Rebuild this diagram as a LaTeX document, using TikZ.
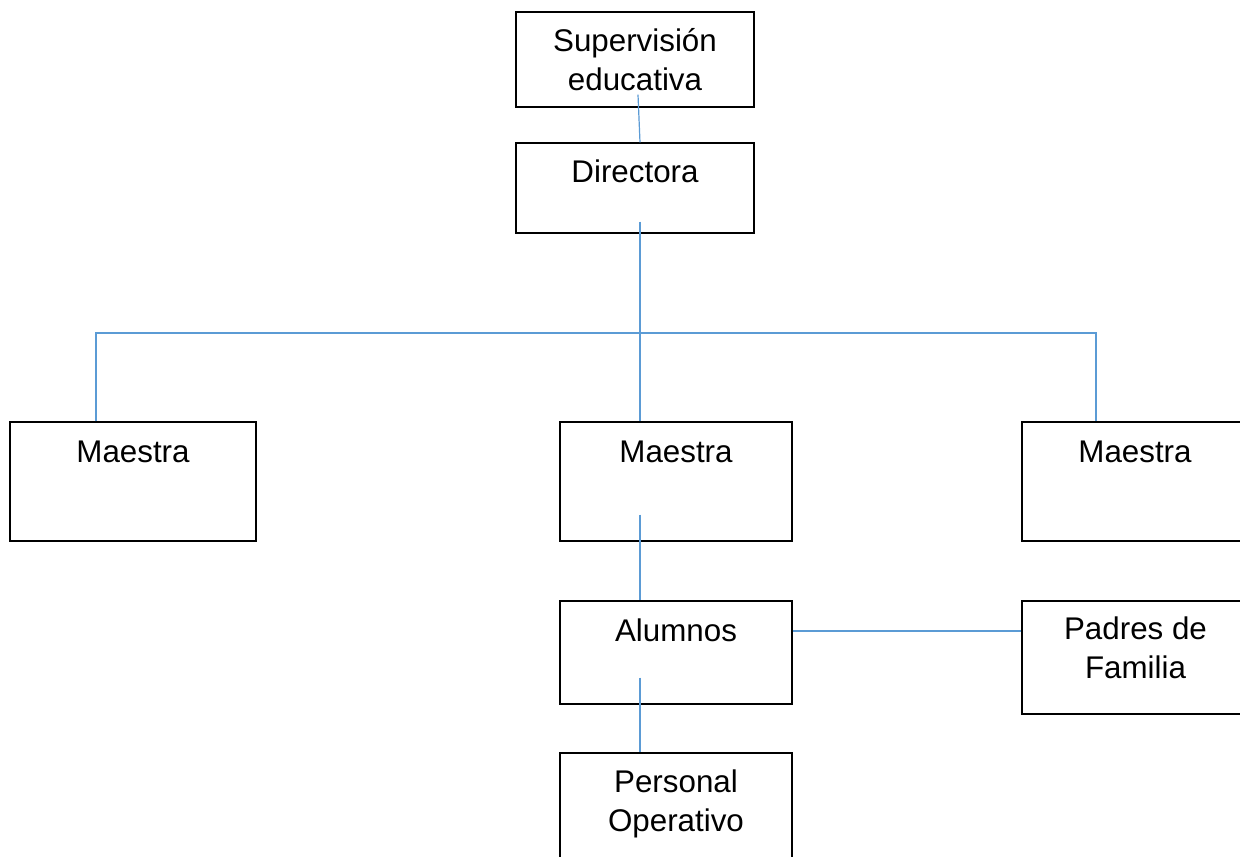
\documentclass[tikz,border=0pt]{standalone}
\usepackage{fontspec}
\setmainfont{Liberation Sans}
\usetikzlibrary{calc}
\definecolor{conn}{RGB}{91,155,213}
\begin{document}
\begin{tikzpicture}[x=0.75pt,y=-0.75pt,
  box/.style={draw=black,line width=1pt,rectangle,inner sep=0pt,fill=white},
  lbl/.style={anchor=base,align=center,inner sep=0pt,font=\fontsize{23.5}{29.25}\selectfont},
  link/.style={draw=conn,line width=0.9pt}]
\useasboundingbox (0,0) rectangle (1240,857);
\clip (0,0) rectangle (1240,857);
\fill[white] (0,0) rectangle (1240,857);
% boxes
\node[box,minimum width=178.5pt,minimum height=71.25pt] (sup) at (635,59.5) {};
\node[box,minimum width=178.5pt,minimum height=67.5pt] (dir) at (635,188) {};
\node[box,minimum width=184.5pt,minimum height=89.25pt] (m1) at (133,481.5) {};
\node[box,minimum width=174pt,minimum height=89.25pt] (m2) at (676,481.5) {};
\node[box,minimum width=169.5pt,minimum height=89.25pt] (m3) at (1135,481.5) {};
\node[box,minimum width=174pt,minimum height=77.25pt] (alu) at (676,652.5) {};
\node[box,minimum width=170.25pt,minimum height=84.75pt] (pad) at (1135.5,657.5) {};
\node[box,minimum width=174pt,minimum height=80.25pt] (per) at (676,806.5) {};
% labels (base anchor = baseline of last line)
\node[lbl] (tsup) at ($(sup.north)+(0,79)$) {Supervisión\\educativa};
\node[lbl] (tdir) at ($(dir.north)+(0,40)$) {Directora};
\node[lbl] (tm1) at ($(m1.north)+(0,41)$) {Maestra};
\node[lbl] (tm2) at ($(m2.north)+(0,41)$) {Maestra};
\node[lbl] (tm3) at ($(m3.north)+(0,41)$) {Maestra};
\node[lbl] (talu) at ($(alu.north)+(0,41)$) {Alumnos};
\node[lbl] (tpad) at ($(pad.north)+(0,78)$) {Padres de\\Familia};
\node[lbl] (tper) at ($(per.north)+(0,79)$) {Personal\\Operativo};
% connectors
\coordinate (s1) at ($(sup.south)+(3,-13)$);
\draw[link] (s1) -- ($(dir.north)+(5,0)$);
\coordinate (d1) at ($(dir.south)+(5,-12)$);
\coordinate (bar) at (640,333);
\draw[link] (d1) -- ($(m2.north)+(-36,0)$);
\draw[link] ($(m1.north)+(-37,0)$) |- (bar) -| ($(m3.north)+(-39,0)$);
\coordinate (m2i) at ($(m2.south)+(-36,-27)$);
\draw[link] (m2i) -- ($(alu.north)+(-36,0)$);
\coordinate (a1) at ($(alu.east)+(0,-21.5)$);
\draw[link] (a1) -- (a1 -| pad.west);
\coordinate (a2) at ($(alu.south)+(-36,-27)$);
\draw[link] (a2) -- ($(per.north)+(-36,0)$);
\end{tikzpicture}
\end{document}
